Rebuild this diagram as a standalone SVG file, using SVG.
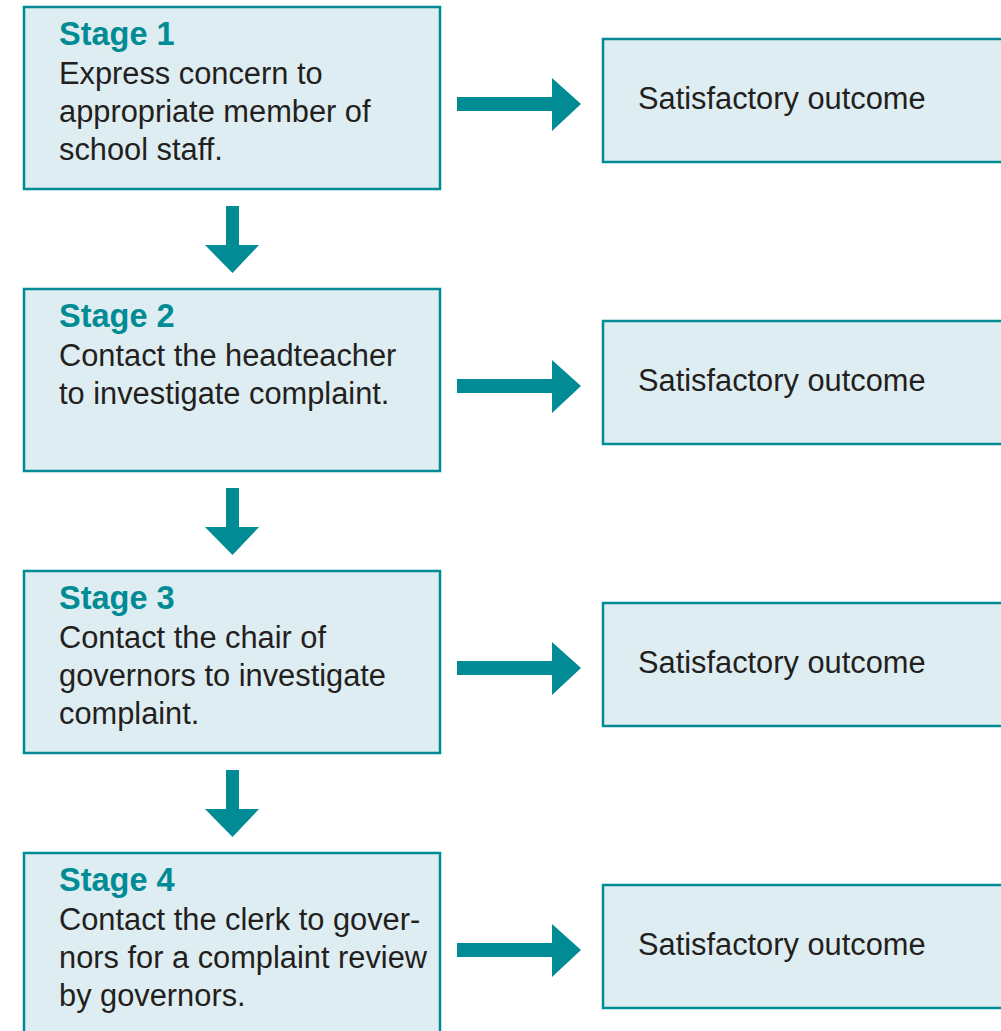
<svg xmlns="http://www.w3.org/2000/svg" width="1001" height="1031" viewBox="0 0 1001 1031">
<defs>
<style>
.box{fill:#deedf1;stroke:#008b95;stroke-width:2.5}
.title{font-family:"Liberation Sans",Arial,sans-serif;font-weight:bold;font-size:32.5px;fill:#008b95}
.body{font-family:"Liberation Sans",Arial,sans-serif;font-size:30.8px;fill:#231f20}
.arr{fill:#008b95}
</style>
<polygon id="harrow" points="457,97 552,97 552,78 581,104 552,131 552,111 457,111"/>
<polygon id="varrow" points="226,206 239,206 239,245 259,245 232.5,273 205,245 226,245"/>
</defs>
<rect width="1001" height="1031" fill="#ffffff"/>
<g id="stage1">
<rect class="box" x="24" y="7" width="416" height="182"/>
<text class="title" x="59" y="45">Stage 1</text>
<text class="body" x="59" y="84">Express concern to</text>
<text class="body" x="59" y="122">appropriate member of</text>
<text class="body" x="59" y="160">school staff.</text>
</g>
<g id="outcome1">
<rect class="box" x="603" y="39" width="410" height="123"/>
<text class="body" x="638" y="109">Satisfactory outcome</text>
</g>
<g id="stage2">
<rect class="box" x="24" y="289" width="416" height="182"/>
<text class="title" x="59" y="327">Stage 2</text>
<text class="body" x="59" y="366">Contact the headteacher</text>
<text class="body" x="59" y="404">to investigate complaint.</text>
</g>
<g id="outcome2">
<rect class="box" x="603" y="321" width="410" height="123"/>
<text class="body" x="638" y="391">Satisfactory outcome</text>
</g>
<g id="stage3">
<rect class="box" x="24" y="571" width="416" height="182"/>
<text class="title" x="59" y="609">Stage 3</text>
<text class="body" x="59" y="648">Contact the chair of</text>
<text class="body" x="59" y="686">governors to investigate</text>
<text class="body" x="59" y="724">complaint.</text>
</g>
<g id="outcome3">
<rect class="box" x="603" y="603" width="410" height="123"/>
<text class="body" x="638" y="673">Satisfactory outcome</text>
</g>
<g id="stage4">
<rect class="box" x="24" y="853" width="416" height="190"/>
<text class="title" x="59" y="891">Stage 4</text>
<text class="body" x="59" y="930">Contact the clerk to gover-</text>
<text class="body" x="59" y="968">nors for a complaint review</text>
<text class="body" x="59" y="1006">by governors.</text>
</g>
<g id="outcome4">
<rect class="box" x="603" y="885" width="410" height="123"/>
<text class="body" x="638" y="955">Satisfactory outcome</text>
</g>
<g id="connectors" class="arr">
<use href="#harrow"/>
<use href="#harrow" y="282"/>
<use href="#harrow" y="564"/>
<use href="#harrow" y="846"/>
<use href="#varrow"/>
<use href="#varrow" y="282"/>
<use href="#varrow" y="564"/>
</g>
</svg>
